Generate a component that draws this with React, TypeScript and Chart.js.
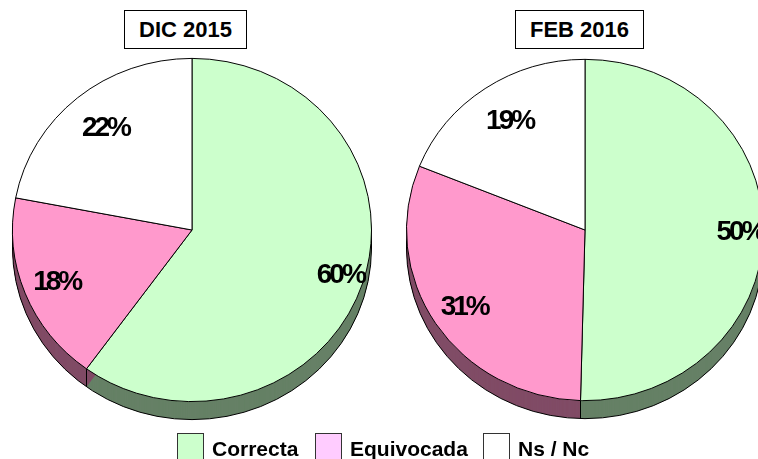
import React, { useEffect, useRef } from "react";
import { Chart, registerables } from "chart.js";
Chart.register(...registerables);

const categories = ["Correcta", "Equivocada", "Ns / Nc"];
const periods = ["DIC 2015", "FEB 2016"];
const dic2015 = [60, 18, 22];
const feb2016 = [50.4, 30.7, 18.9];
const topColors = ["#ccffcc", "#ff99cc", "#ffffff"];
const sideColors = ["#668066", "#804c66", "#808080"];
const legendColors = ["#ccffcc", "#ffccff", "#ffffff"];

const pie3d = {
  id: "pie3d",
  beforeDatasetsDraw(chart: any, _args: any, opts: any) {
    const ctx = chart.ctx;
    const arcs = chart.getDatasetMeta(0).data;
    const k = opts.squash;
    const depth = opts.depth;
    ctx.save();
    arcs.forEach((a: any, i: number) => {
      const { x, y, startAngle, endAngle, outerRadius } = a.getProps(
        ["x", "y", "startAngle", "endAngle", "outerRadius"],
        true
      );
      ctx.fillStyle = opts.sideColors[i];
      for (let d = depth; d >= 0.5; d -= 0.5) {
        ctx.beginPath();
        ctx.moveTo(x, y + d);
        ctx.ellipse(x, y + d, outerRadius, outerRadius * k, 0, startAngle, endAngle);
        ctx.closePath();
        ctx.fill();
      }
    });
    const a0 = arcs[0];
    const { x, y, outerRadius: R } = a0.getProps(["x", "y", "outerRadius"], true);
    ctx.strokeStyle = "#000";
    ctx.lineWidth = 1;
    ctx.beginPath();
    ctx.ellipse(x, y + depth, R, R * k, 0, 0, Math.PI);
    ctx.stroke();
    const edges: number[] = [0, Math.PI];
    arcs.forEach((a: any) => {
      const s = a.getProps(["startAngle"], true).startAngle;
      let t = ((s % (2 * Math.PI)) + 2 * Math.PI) % (2 * Math.PI);
      if (t > 0 && t < Math.PI) edges.push(t);
    });
    edges.forEach((t) => {
      const px = x + R * Math.cos(t);
      const py = y + R * k * Math.sin(t);
      ctx.beginPath();
      ctx.moveTo(px, py);
      ctx.lineTo(px, py + depth);
      ctx.stroke();
    });
    ctx.restore();
    ctx.save();
    ctx.translate(x, y);
    ctx.scale(1, k);
    ctx.translate(-x, -y);
  },
  afterDatasetsDraw(chart: any, _args: any, opts: any) {
    const ctx = chart.ctx;
    ctx.restore();
    const arcs = chart.getDatasetMeta(0).data;
    const values = chart.data.datasets[0].data;
    const k = opts.squash;
    ctx.save();
    ctx.font = "bold 28px Arial, 'Liberation Sans', sans-serif";
    (ctx as any).letterSpacing = "-3px";
    ctx.fillStyle = "#000";
    ctx.textAlign = "center";
    ctx.textBaseline = "middle";
    arcs.forEach((a: any, i: number) => {
      const { x, y, startAngle, endAngle, outerRadius } = a.getProps(
        ["x", "y", "startAngle", "endAngle", "outerRadius"],
        true
      );
      const m = (startAngle + endAngle) / 2;
      const f = opts.labelRadius[i];
      const lx = x + Math.cos(m) * outerRadius * f;
      const ly = y + Math.sin(m) * outerRadius * f * k;
      ctx.fillText(Math.round(values[i]) + "%", lx + 1.5, ly);
    });
    ctx.restore();
  },
};

function Pie({
  values,
  left,
  width,
  padding,
}: {
  values: number[];
  left: number;
  width: number;
  padding: { left: number; right: number; top: number; bottom: number };
}) {
  const ref = useRef<HTMLCanvasElement | null>(null);
  useEffect(() => {
    if (!ref.current) return;
    const chart = new Chart(ref.current, {
      type: "pie",
      data: {
        labels: categories,
        datasets: [
          {
            data: values,
            backgroundColor: topColors,
            borderColor: "#000",
            borderWidth: 1,
            clip: false as any,
          },
        ],
      },
      options: {
        responsive: false,
        animation: false,
        layout: { padding },
        plugins: {
          legend: { display: false },
          tooltip: { enabled: false },
          title: { display: false },
          pie3d: {
            squash: 0.956,
            depth: 18,
            sideColors,
            labelRadius: [0.86, 0.82, 0.77],
          },
        } as any,
      },
      plugins: [pie3d as any],
    });
    return () => chart.destroy();
  }, []);
  return (
    <canvas
      ref={ref}
      width={width}
      height={459}
      style={{ position: "absolute", left, top: 0, width, height: 459 }}
    />
  );
}

const titleStyle: React.CSSProperties = {
  position: "absolute",
  top: 10,
  height: 39,
  boxSizing: "border-box",
  border: "1px solid #000",
  background: "#fff",
  display: "flex",
  alignItems: "center",
  justifyContent: "center",
  font: "bold 22px Arial, 'Liberation Sans', sans-serif",
  color: "#000",
};

const legendPos = [
  { box: 177, text: 212 },
  { box: 315, text: 350 },
  { box: 483, text: 518 },
];

export default function App() {
  return (
    <div
      style={{
        position: "absolute",
        left: 0,
        top: 0,
        width: 758,
        height: 459,
        overflow: "hidden",
        background: "#fff",
      }}
    >
      <Pie values={dic2015} left={0} width={384} padding={{ left: 12, right: 12, top: 50, bottom: 49 }} />
      <Pie values={feb2016} left={390} width={390} padding={{ left: 16, right: 16, top: 51, bottom: 50 }} />
      <div style={{ ...titleStyle, left: 124, width: 123 }}>{periods[0]}</div>
      <div style={{ ...titleStyle, left: 515, width: 129 }}>{periods[1]}</div>
      {categories.map((c, i) => (
        <React.Fragment key={c}>
          <div
            style={{
              position: "absolute",
              left: legendPos[i].box,
              top: 433,
              width: 27,
              height: 27,
              boxSizing: "border-box",
              border: "1px solid #333",
              background: legendColors[i],
            }}
          />
          <div
            style={{
              position: "absolute",
              left: legendPos[i].text,
              top: 437,
              lineHeight: "21px",
              font: "bold 21px Arial, 'Liberation Sans', sans-serif",
              whiteSpace: "nowrap",
              color: "#000",
            }}
          >
            {c}
          </div>
        </React.Fragment>
      ))}
    </div>
  );
}
